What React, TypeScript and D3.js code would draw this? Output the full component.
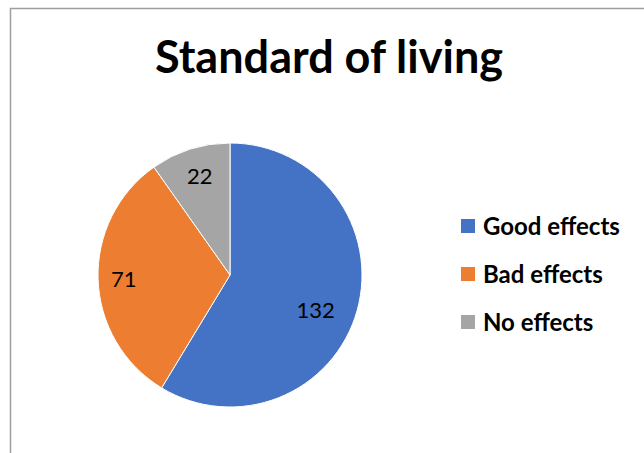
import React, { useRef, useEffect } from 'react';
import * as d3 from 'd3';

const categories = ['Good effects', 'Bad effects', 'No effects'];
const values = [132, 71, 22];
const colors = ['#4472C4', '#ED7D31', '#A5A5A5'];
const title = 'Standard of living';
// best-fit label shift (px) from the arc centroid, like the source chart
const labelNudge: [number, number][] = [
  [-11, 8],
  [-6, 1],
  [0, -3],
];

const WIDTH = 644;
const HEIGHT = 453;

const App: React.FC = () => {
  const svgRef = useRef<SVGSVGElement | null>(null);

  useEffect(() => {
    const svg = d3.select(svgRef.current);
    svg.selectAll('*').remove();

    const font = 'Lato, "Open Sans", sans-serif';

    // chart frame (runs past the right/bottom edge of the view)
    svg
      .append('rect')
      .attr('x', 10.5)
      .attr('y', 8.5)
      .attr('width', WIDTH + 20)
      .attr('height', HEIGHT + 20)
      .attr('fill', '#fff')
      .attr('stroke', '#9e9e9e')
      .attr('stroke-width', 1.5);

    svg
      .append('text')
      .attr('x', 329)
      .attr('y', 73)
      .attr('text-anchor', 'middle')
      .attr('font-family', font)
      .attr('font-weight', 700)
      .attr('font-size', 45)
      .attr('fill', '#000')
      .text(title);

    const cx = 230;
    const cy = 275;
    const r = 132;

    const pie = d3
      .pie<number>()
      .sort(null)
      .value((d) => d);
    const arcs = pie(values);

    const arc = d3.arc<d3.PieArcDatum<number>>().innerRadius(0).outerRadius(r);
    const labelArc = d3
      .arc<d3.PieArcDatum<number>>()
      .innerRadius(r * 0.76)
      .outerRadius(r * 0.76);

    const g = svg.append('g').attr('transform', `translate(${cx},${cy})`);

    g.selectAll('path')
      .data(arcs)
      .join('path')
      .attr('d', arc)
      .attr('fill', (_, i) => colors[i])
      .attr('stroke', '#fff')
      .attr('stroke-width', 1);

    g.selectAll('text')
      .data(arcs)
      .join('text')
      .attr('transform', (d, i) => {
        const [x, y] = labelArc.centroid(d);
        return `translate(${x + labelNudge[i][0]},${y + labelNudge[i][1]})`;
      })
      .attr('text-anchor', 'middle')
      .attr('dy', '0.35em')
      .attr('font-family', font)
      .attr('font-size', 22)
      .attr('fill', '#000')
      .text((d) => String(d.data));

    const legend = svg
      .append('g')
      .selectAll('g')
      .data(categories)
      .join('g')
      .attr('transform', (_, i) => `translate(461,${226 + i * 48})`);

    legend
      .append('rect')
      .attr('x', 0)
      .attr('y', -7)
      .attr('width', 14)
      .attr('height', 14)
      .attr('fill', (_, i) => colors[i]);

    legend
      .append('text')
      .attr('x', 22)
      .attr('y', 1)
      .attr('dy', '0.35em')
      .attr('font-family', font)
      .attr('font-weight', 700)
      .attr('font-size', 24)
      .attr('fill', '#000')
      .text((d) => d);
  }, []);

  return (
    <svg
      ref={svgRef}
      width={WIDTH}
      height={HEIGHT}
      style={{ position: 'absolute', left: 0, top: 0, background: '#fff' }}
    />
  );
};

export default App;
